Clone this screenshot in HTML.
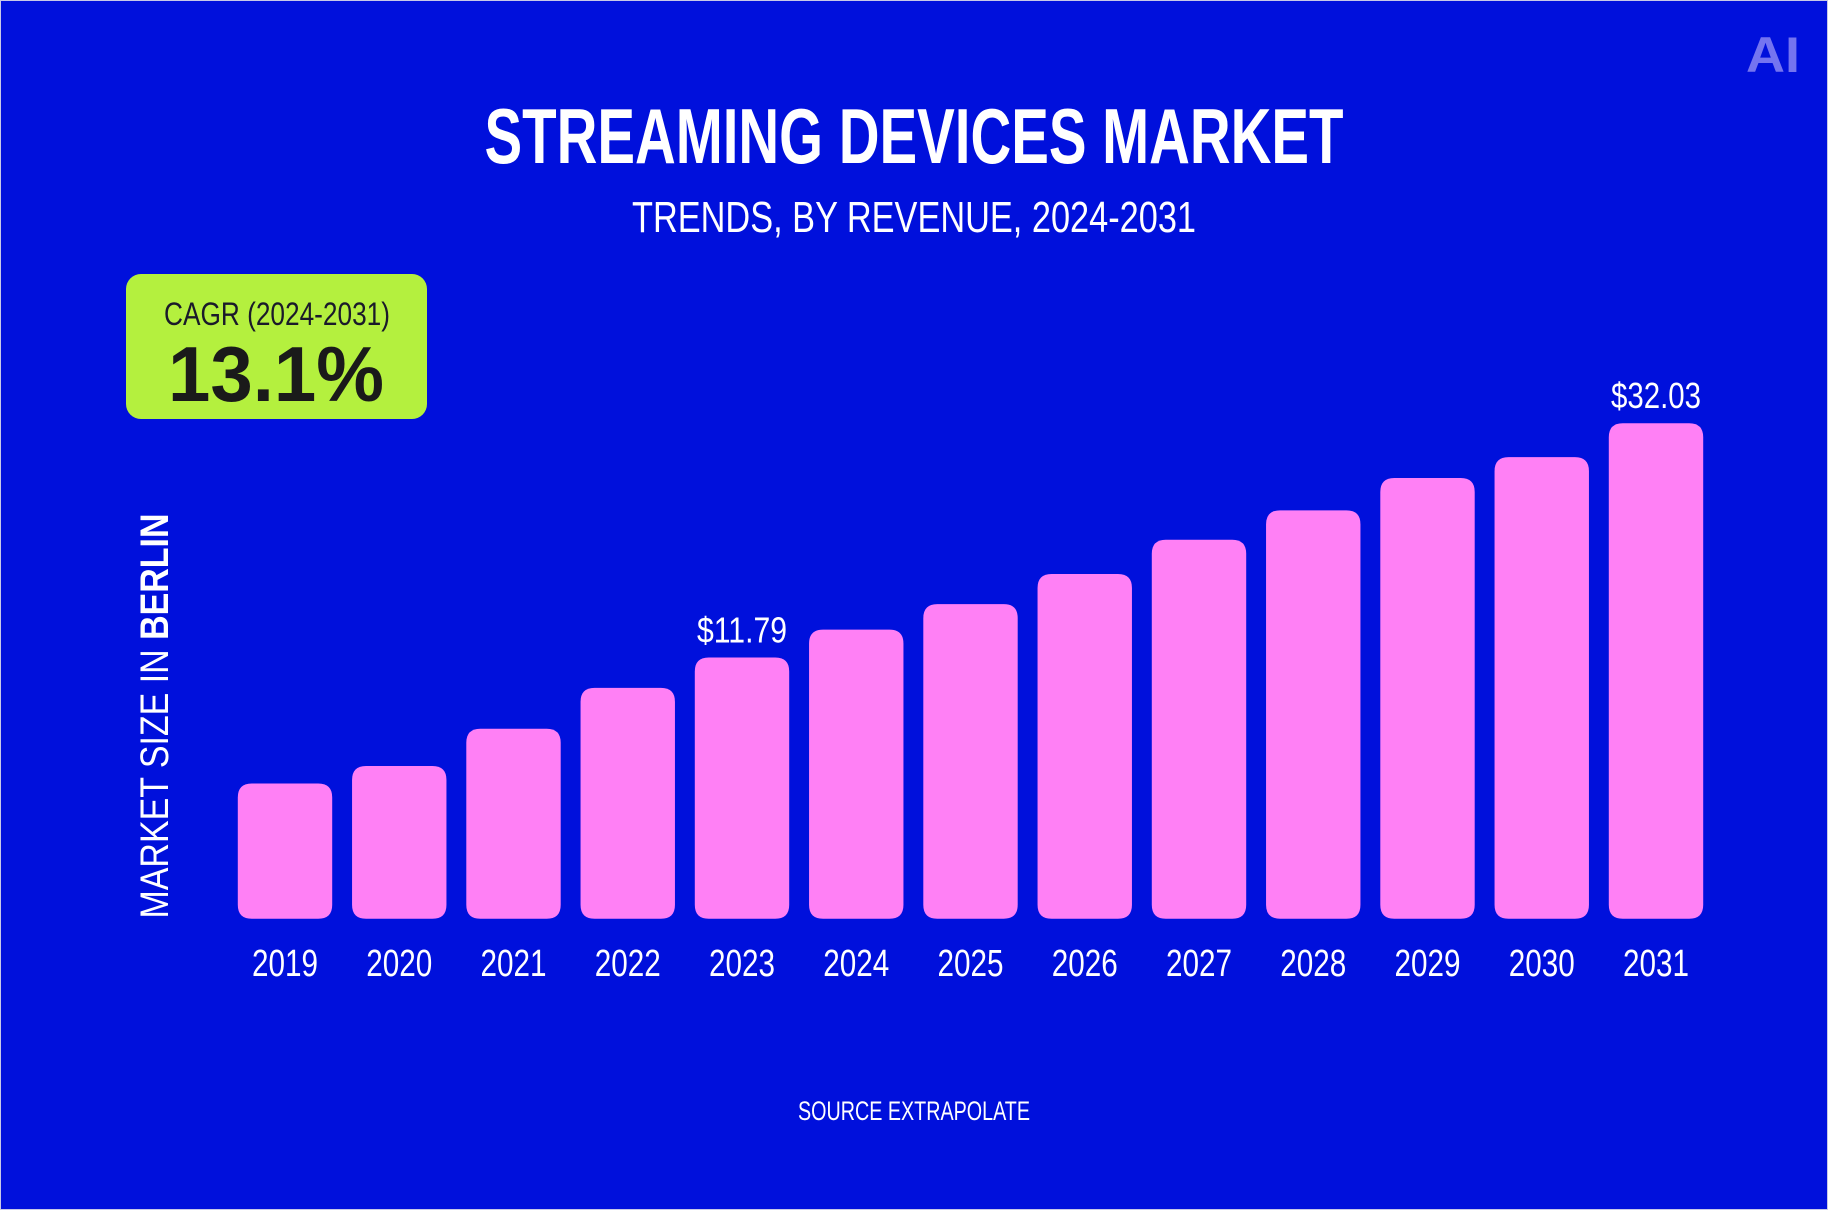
<!DOCTYPE html>
<html><head><meta charset="utf-8"><style>
html,body{margin:0;padding:0;background:#0010dc;}
svg{display:block}
text{font-family:"Liberation Sans",sans-serif;}
</style></head><body>
<svg width="1828" height="1210" viewBox="0 0 1828 1210">
<rect x="0.5" y="0.5" width="1827" height="1209" fill="#0010dc" stroke="#c8c8e8"/>
<text x="1773" y="72" text-anchor="middle" font-size="50" font-weight="bold" fill="#7474f0" textLength="54" lengthAdjust="spacingAndGlyphs">AI</text>
<text x="914" y="163" text-anchor="middle" font-size="78" font-weight="bold" fill="#fff" textLength="859" lengthAdjust="spacingAndGlyphs">STREAMING DEVICES MARKET</text>
<text x="914" y="232" text-anchor="middle" font-size="44" fill="#fff" textLength="564" lengthAdjust="spacingAndGlyphs">TRENDS, BY REVENUE, 2024-2031</text>
<g>
<rect x="126" y="274" width="301" height="145" rx="15" fill="#b4f03e"/>
<text x="277" y="325" text-anchor="middle" font-size="32" fill="#1a1a2a" textLength="226" lengthAdjust="spacingAndGlyphs">CAGR (2024-2031)</text>
<text x="276" y="401" text-anchor="middle" font-size="78" font-weight="bold" fill="#1a1a1a" textLength="216" lengthAdjust="spacingAndGlyphs">13.1%</text>
</g>
<text transform="translate(168,716) rotate(-90)" text-anchor="middle" font-size="40" fill="#fff" textLength="405" lengthAdjust="spacingAndGlyphs">MARKET SIZE IN <tspan font-weight="bold">BERLIN</tspan></text>
<g id="bars"></g>
<text x="914" y="1120" text-anchor="middle" font-size="27" fill="#fff" textLength="232" lengthAdjust="spacingAndGlyphs">SOURCE EXTRAPOLATE</text>
</svg>
<script>
const years=["2019","2020","2021","2022","2023","2024","2025","2026","2027","2028","2029","2030","2031"];
const values=[0.91,2.42,5.64,9.17,11.79,14.2,16.4,19.0,21.96,24.5,27.3,29.1,32.03];
const valueLabels=["","","","","$11.79","","","","","","","","$32.03"];
const vMin=-10.77, vMax=32.03;
const baseY=918.7, topY=423.2, left0=237.8, pitch=114.25, bw=94.4;
function y(v){return baseY-(v-vMin)/(vMax-vMin)*(baseY-topY);}
function x(i){return left0+i*pitch;}
const g=document.getElementById('bars');
const NS="http://www.w3.org/2000/svg";
years.forEach((yr,i)=>{
  const yt=y(values[i]);
  const p=document.createElementNS(NS,'path');
  const r=14,x0=x(i),x1=x0+bw;
  p.setAttribute('d',`M${x0},${baseY-r}L${x0},${yt+r}Q${x0},${yt} ${x0+r},${yt}L${x1-r},${yt}Q${x1},${yt} ${x1},${yt+r}L${x1},${baseY-r}Q${x1},${baseY} ${x1-r},${baseY}L${x0+r},${baseY}Q${x0},${baseY} ${x0},${baseY-r}Z`);
  p.setAttribute('fill','#ff80f5');
  
  
  g.appendChild(p);
  const t=document.createElementNS(NS,'text');
  t.setAttribute('x',x0+bw/2);t.setAttribute('y',976);
  t.setAttribute('text-anchor','middle');t.setAttribute('font-size','38');t.setAttribute('fill','#fff');
  t.setAttribute('textLength','66');t.setAttribute('lengthAdjust','spacingAndGlyphs');
  t.textContent=yr;
  
  
  g.appendChild(t);
  if(valueLabels[i]){
    const v=document.createElementNS(NS,'text');
    v.setAttribute('x',x0+bw/2);v.setAttribute('y',yt-15);
    v.setAttribute('text-anchor','middle');v.setAttribute('font-size','36');v.setAttribute('fill','#fff');
    v.setAttribute('textLength','90');v.setAttribute('lengthAdjust','spacingAndGlyphs');
    v.textContent=valueLabels[i];
    
    
    g.appendChild(v);
  }
});
</script>
</body></html>
